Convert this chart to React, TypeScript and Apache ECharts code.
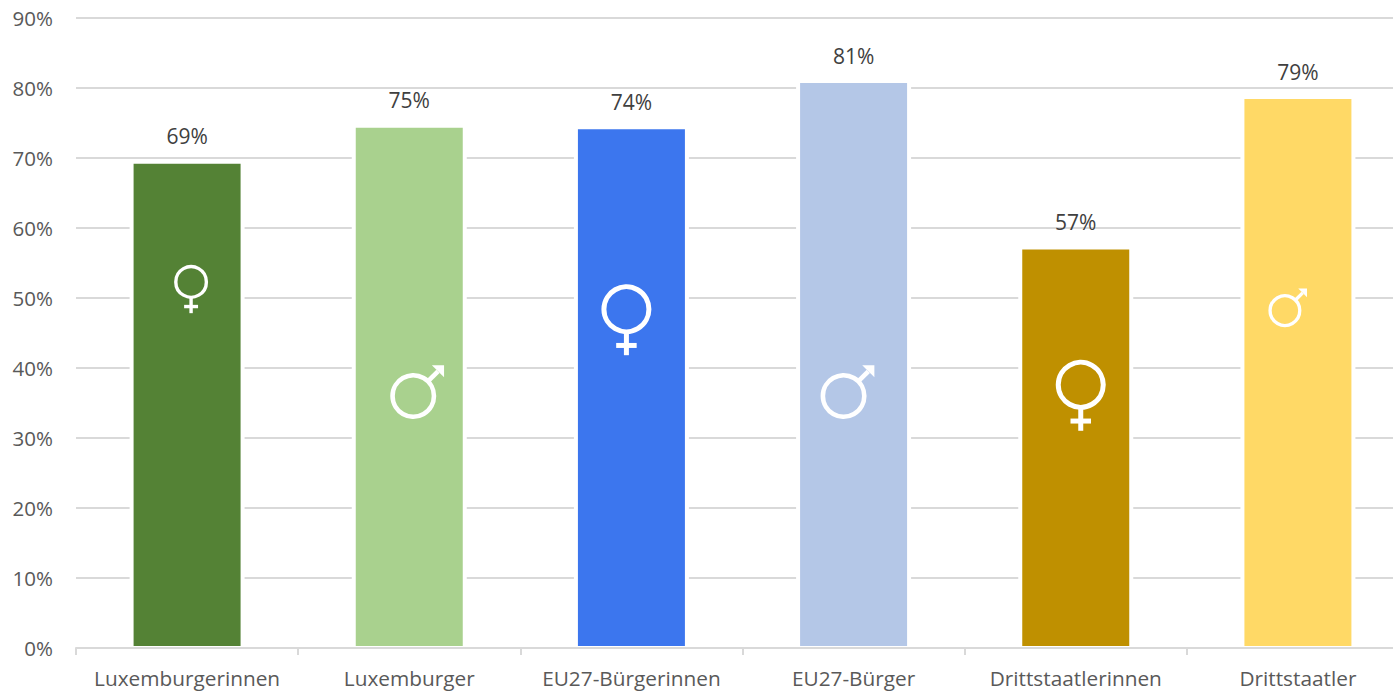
import React, { useEffect, useRef } from "react";
import * as echarts from "echarts";

const categories = [
  "Luxemburgerinnen",
  "Luxemburger",
  "EU27-Bürgerinnen",
  "EU27-Bürger",
  "Drittstaatlerinnen",
  "Drittstaatler",
];
const shares = [69.45, 74.6, 74.4, 81.0, 57.2, 78.7];
const barColors = ["#548235", "#A9D18E", "#3C76EE", "#B4C7E7", "#BF9000", "#FFD966"];

// Gender glyphs inside the bars
const glyphKinds = ["f", "m", "f", "m", "f", "m"];
const glyphLevels = [52.3, 36.0, 48.4, 36.0, 37.6, 48.2];
const glyphShifts = [4, 4, -5, -10, 5, -13];
const glyphRadii = [17, 23, 25, 23, 25, 16.5];

const TEXT_FONT = "'Open Sans', sans-serif";

function renderGlyph(params: any, api: any) {
  const idx = params.dataIndex;
  const [bx, by] = api.coord([api.value(0), api.value(1)]);
  const cx = bx + glyphShifts[idx];
  const cy = by;
  const r = glyphRadii[idx];
  const t = r * 0.2;
  const line = { stroke: "#ffffff", lineWidth: t, fill: "none" };
  const fill = { fill: "#ffffff" };
  const ring = {
    type: "circle",
    shape: { cx, cy, r: r - t / 2 },
    style: line,
  };
  if (glyphKinds[idx] === "f") {
    return {
      type: "group",
      children: [
        ring,
        {
          type: "line",
          shape: { x1: cx, y1: cy + r - t / 2, x2: cx, y2: cy + r * 1.84 },
          style: line,
        },
        {
          type: "line",
          shape: { x1: cx - r * 0.41, y1: cy + r * 1.45, x2: cx + r * 0.41, y2: cy + r * 1.45 },
          style: line,
        },
      ],
    };
  }
  const tip = r * 1.34;
  const head = r * 0.53;
  const root = r * Math.SQRT1_2 - t / 4;
  return {
    type: "group",
    children: [
      ring,
      {
        type: "line",
        shape: { x1: cx + root, y1: cy - root, x2: cx + tip - head / 2, y2: cy - tip + head / 2 },
        style: line,
      },
      {
        type: "polygon",
        shape: {
          points: [
            [cx + tip, cy - tip],
            [cx + tip - head, cy - tip],
            [cx + tip, cy - tip + head],
          ],
        },
        style: fill,
      },
    ],
  };
}

export default function App() {
  const ref = useRef<HTMLDivElement>(null);

  useEffect(() => {
    const chart = echarts.init(ref.current!, undefined, { renderer: "svg" });
    chart.setOption({
      animation: false,
      backgroundColor: "#ffffff",
      // The plot runs past the right edge, so the last category slot is cut off
      grid: { left: 76, width: 1333, top: 18, height: 630, containLabel: false, outerBoundsMode: "none" },
      xAxis: [
        {
          type: "category",
          data: categories,
          z: 3,
          axisLine: { lineStyle: { color: "#d9d9d9", width: 2 } },
          axisTick: { show: true, alignWithLabel: false, length: 7, lineStyle: { color: "#d9d9d9", width: 2 } },
          axisLabel: {
            color: "#595959",
            fontFamily: TEXT_FONT,
            fontSize: 20.8,
            margin: 19,
            interval: 0,
          },
        },
        // Carries the white bars that open a gap in the gridlines around each column
        { type: "category", data: categories, show: false },
      ],
      yAxis: {
        type: "value",
        min: 0,
        max: 90,
        interval: 10,
        axisLine: { show: false },
        axisTick: { show: false },
        splitLine: { lineStyle: { color: "#d9d9d9", width: 2 } },
        axisLabel: {
          color: "#595959",
          fontFamily: TEXT_FONT,
          fontSize: 20.5,
          margin: 23,
          formatter: (v: number) => `${v}%`,
        },
      },
      series: [
        {
          type: "bar",
          xAxisIndex: 1,
          barWidth: 115,
          z: 1,
          silent: true,
          itemStyle: { color: "#ffffff" },
          data: shares,
        },
        {
          type: "bar",
          xAxisIndex: 0,
          barWidth: 111,
          z: 2,
          data: shares.map((value, i) => ({
            value,
            itemStyle: { color: barColors[i], borderColor: "#ffffff", borderWidth: 2 },
          })),
          label: {
            show: true,
            position: "top",
            distance: 15,
            color: "#404040",
            fontFamily: TEXT_FONT,
            fontSize: 21,
            formatter: (p: any) => `${Math.round(p.value)}%`,
          },
        },
        {
          type: "custom",
          silent: true,
          z: 4,
          encode: { x: 0, y: 1 },
          data: glyphLevels.map((level, i) => [i, level]),
          renderItem: renderGlyph,
        },
      ],
    });
    return () => chart.dispose();
  }, []);

  return (
    <div
      ref={ref}
      style={{ position: "absolute", left: 0, top: 0, width: 1393, height: 692, overflow: "hidden" }}
    />
  );
}
